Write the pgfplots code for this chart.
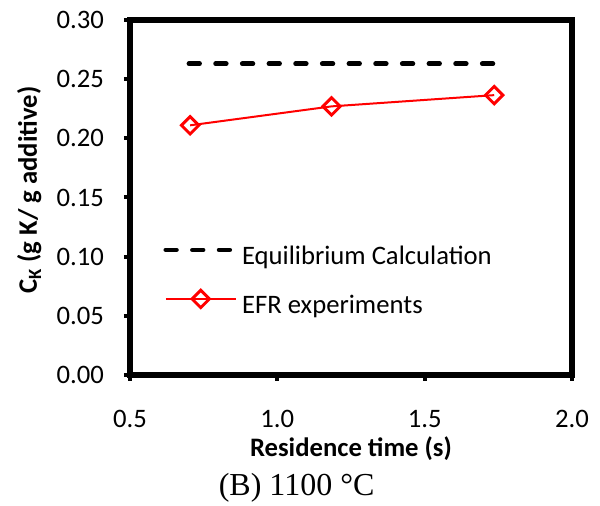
\documentclass[border=0pt]{standalone}
\usepackage{fontspec}
\setmainfont{Carlito}
\newfontfamily\timesfont{Liberation Serif}
\usepackage{pgfplots}
\pgfplotsset{compat=1.18}

\pgfplotsset{
  eqlegend/.style={legend image code/.code={\draw[##1] (0pt,6.3pt) -- (51.5pt,6.3pt);}},
  efrlegend/.style={legend image code/.code={\draw[##1, mark repeat=2, mark phase=2] plot coordinates {(0pt,6.3pt) (26.25pt,6.3pt) (52.5pt,6.3pt)};}},
}

\begin{document}
\begin{tikzpicture}
\useasboundingbox (-97.5pt,-98.25pt) rectangle (352.5pt,281.25pt);
\begin{axis}[
  at={(0pt,0pt)}, anchor=south west,
  scale only axis,
  width=331.5pt, height=266.25pt,
  xmin=0.5, xmax=2.0,
  ymin=0, ymax=0.30,
  xtick={0.5,1.0,1.5,2.0},
  ytick={0,0.05,0.10,0.15,0.20,0.25,0.30},
  xtick pos=bottom, ytick pos=left,
  tick align=outside,
  major tick length=4.5pt,
  every tick/.style={black, line width=3pt},
  axis line style={line width=4pt},
  /pgf/number format/assume math mode=true,
  xticklabel style={/pgf/number format/.cd, fixed, fixed zerofill, precision=1, /tikz/.cd, yshift=-18.5pt},
  yticklabel style={/pgf/number format/.cd, fixed, fixed zerofill, precision=2, /tikz/.cd, xshift=-11.5pt},
  tick label style={font=\fontsize{20}{24}\selectfont},
  xlabel={\textbf{Residence time (s)}},
  ylabel={\textbf{C\textsubscript{K} (g K/ g additive)}},
  label style={font=\fontsize{20}{24}\selectfont},
  xlabel style={at={(rel axis cs:0.5,-0.206)}, anchor=center},
  ylabel style={at={(rel axis cs:-0.228,0.521)}, anchor=center},
  clip=false,
  legend style={draw=none, fill=none, at={(rel axis cs:0.066,0.369)}, anchor=north west,
    font=\fontsize{20}{24}\selectfont, row sep=15.5pt,
    nodes={inner sep=0pt, text height=13pt, text depth=4pt},
    /tikz/every odd column/.append style={column sep=4pt}},
  legend cell align=left,
]

% Equilibrium calculation
\addplot[black, line width=3.5pt, line cap=round, dash pattern=on 8pt off 12pt, eqlegend]
  coordinates {(0.70,0.263) (1.74,0.263)};

% EFR experiments
\addplot[red, line width=1.5pt, mark=square, mark size=4.6pt,
  mark options={rotate=45, line width=2.2pt, solid, fill=white}, efrlegend]
  coordinates {(0.704,0.211) (1.184,0.227) (1.736,0.2365)};

\legend{Equilibrium Calculation, EFR experiments}

\node[font=\timesfont\fontsize{24}{28}\selectfont] at (rel axis cs:0.377,-0.318) {(B) 1100 °C};
\end{axis}
\end{tikzpicture}
\end{document}
